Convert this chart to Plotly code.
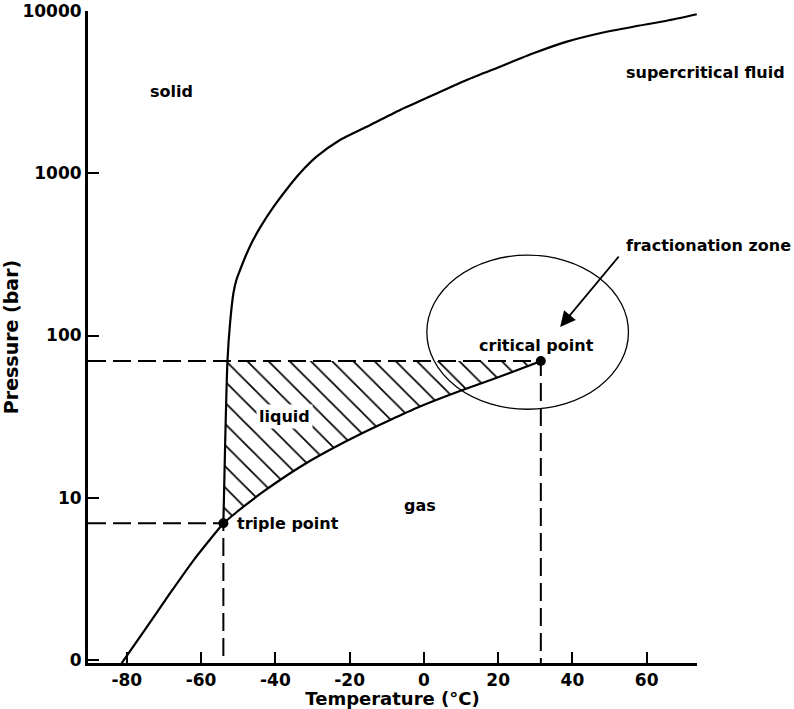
import math
import plotly.graph_objects as go

# ---- data (temperature in °C, pressure in bar) ----
# Sublimation curve (solid / gas)
sub_T = [-81.4, -75.1, -68.4, -62.1, -57.6, -54.0]
sub_P = [0.955, 1.54, 2.57, 4.10, 5.53, 6.96]

# Melting curve (solid / liquid and solid / supercritical)
melt_T = [-54.0, -53.5, -52.9, -52.2, -51.3, -50.5, -49.4, -48.0, -46.4, -44.0,
          -40.5, -37.1, -33.4, -28.9, -22.6, -15.4, -6.4, 2.5, 11.5, 20.5,
          29.5, 38.5, 47.4, 56.4, 65.4, 73.5]
melt_P = [6.96, 22.7, 69.7, 119, 182, 220, 257, 309, 372, 467,
          620, 789, 1000, 1265, 1603, 1936, 2455, 3034, 3758, 4539,
          5483, 6471, 7295, 8000, 8710, 9550]

# Vaporization curve (liquid / gas) from triple point to critical point
vap_T = [-54.0, -50.4, -44.1, -38.75, -31.6, -24.4, -15.4, -8.2, -1.05, 9.7,
         18.7, 27.7, 31.5]
vap_P = [6.96, 8.17, 10.55, 12.87, 16.38, 20.26, 25.78, 30.79, 36.51, 45.5,
         53.9, 64.4, 69.7]

triple_T, triple_P = -54.0, 6.96
critical_T, critical_P = 31.5, 69.7

# Fractionation zone (ellipse extent) and arrow
zone_T = [0.8, 55.1]
zone_P = [35.1, 313]
arrow_head = (36.7, 113)
arrow_tail = (52.8, 313)

x_ticks = [-80, -60, -40, -20, 0, 20, 40, 60]
x_ticktext = ["-80", "-60", "-40", "-20", "0", "20", "40", "60"]
y_ticks = [1, 10, 100, 1000, 10000]
y_ticktext = ["0", "10", "100", "1000", "10000"]

# region labels: (text, T, P, anchor)
labels = [
    ("solid", -68.0, 3170, "center"),
    ("supercritical fluid", 53.6, 4207, "left"),
    ("critical point", 30.3, 87.3, "center"),
    ("liquid", -37.5, 31.9, "center"),
    ("gas", -1.0, 9.0, "center"),
    ("triple point", -36.7, 6.97, "center"),
    ("fractionation zone", 53.6, 361, "left"),
]

# ---- figure ----
X_RANGE = [-90.46, 73.56]
Y_RANGE = [-0.0185, 4.0]
y_bottom = 10 ** Y_RANGE[0]
FONT = "DejaVu Sans"

fig = go.Figure()

# hatched liquid region
poly_T = melt_T[:3] + vap_T[::-1]
poly_P = melt_P[:3] + vap_P[::-1]
fig.add_trace(go.Scatter(
    x=poly_T, y=poly_P, mode="lines", fill="toself",
    line=dict(width=0, color="black"),
    fillcolor="white",
    fillpattern=dict(shape="\\", size=15, solidity=0.11,
                     fgcolor="black", bgcolor="white", fgopacity=1),
    hoverinfo="skip", showlegend=False))

dash_style = dict(color="black", width=2, dash="18px,7px")
# dashed guide lines at the critical point
fig.add_trace(go.Scatter(x=[X_RANGE[0], critical_T, critical_T],
                         y=[critical_P, critical_P, y_bottom],
                         mode="lines", line=dash_style, showlegend=False, hoverinfo="skip"))
# dashed guide lines at the triple point
fig.add_trace(go.Scatter(x=[X_RANGE[0], triple_T, triple_T],
                         y=[triple_P, triple_P, y_bottom],
                         mode="lines", line=dash_style, showlegend=False, hoverinfo="skip"))

curve_style = dict(color="black", width=2.2, shape="spline", smoothing=0.6)
for tx, py in [(sub_T, sub_P), (melt_T, melt_P), (vap_T, vap_P)]:
    fig.add_trace(go.Scatter(x=tx, y=py, mode="lines", line=curve_style,
                             showlegend=False, hoverinfo="skip"))

fig.add_trace(go.Scatter(x=[triple_T, critical_T], y=[triple_P, critical_P],
                         mode="markers", marker=dict(color="black", size=10),
                         showlegend=False, hoverinfo="skip", cliponaxis=False))

fig.add_shape(type="circle", xref="x", yref="y",
              x0=zone_T[0], x1=zone_T[1], y0=zone_P[0], y1=zone_P[1],
              line=dict(color="black", width=1.3))

fig.add_annotation(x=arrow_head[0], y=math.log10(arrow_head[1]),
                   ax=arrow_tail[0], ay=math.log10(arrow_tail[1]),
                   axref="x", ayref="y", xref="x", yref="y", text="",
                   showarrow=True, arrowhead=2, arrowsize=1.8, arrowwidth=1.7,
                   arrowcolor="black")

for text, t, p, anchor in labels:
    fig.add_annotation(x=t, y=math.log10(p), xref="x", yref="y", text=text,
                       showarrow=False, xanchor=anchor, yanchor="middle",
                       font=dict(family=FONT, size=16, color="black", weight="bold"),
                       bgcolor="white" if text == "liquid" else None,
                       borderpad=2)

axis_common = dict(showline=True, linecolor="black", linewidth=3,
                   ticks="inside", ticklen=11, tickwidth=2, tickcolor="black",
                   showgrid=False, zeroline=False,
                   tickfont=dict(family=FONT, size=17, color="black", weight="bold"))

fig.update_xaxes(range=X_RANGE, tickvals=x_ticks, ticktext=x_ticktext,
                 title=dict(text="Temperature (°C)", standoff=5,
                            font=dict(family=FONT, size=18, color="black", weight="bold")),
                 **axis_common)
fig.update_yaxes(type="log", range=Y_RANGE, tickvals=y_ticks, ticktext=y_ticktext,
                 title=dict(text="Pressure (bar)", standoff=0,
                            font=dict(family=FONT, size=19, color="black", weight="bold")),
                 **axis_common)

fig.update_layout(width=794, height=709,
                  margin=dict(l=88, r=97, t=11, b=46, autoexpand=False),
                  paper_bgcolor="white", plot_bgcolor="white",
                  font=dict(family=FONT, color="black"))

fig.write_html("out.html", config={"displayModeBar": False},
               post_script="document.body.style.margin='0px';document.body.style.padding='0px';")
